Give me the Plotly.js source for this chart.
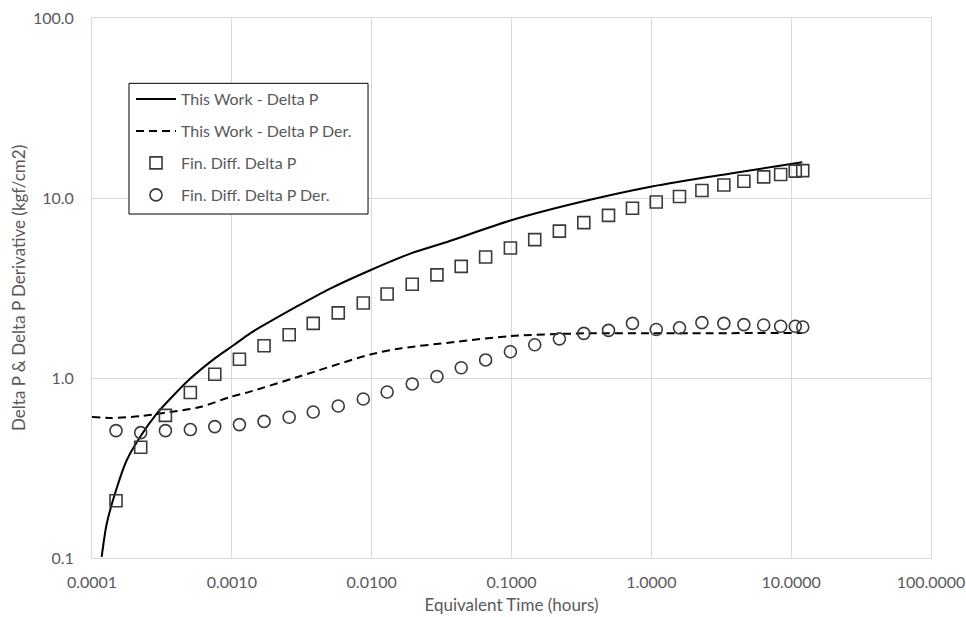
<!DOCTYPE html>
<html>
<head>
<meta charset="utf-8">
<script src="https://cdn.plot.ly/plotly-3.0.1.min.js"></script>
<style>
  html, body { margin: 0; padding: 0; background: #ffffff; }
  #chart { width: 966px; height: 617px; }
</style>
</head>
<body>
<div id="chart"></div>
<script>
// Analytical model (this work): pressure change and its derivative
const modelTime = [1.173e-4, 1.274e-4, 1.461e-4, 1.771e-4, 2.206e-4, 2.904e-4, 3.82e-4, 5.03e-4,
  7.81e-4, 1.027e-3, 1.352e-3, 1.68e-3, 2.92e-3, 5.06e-3, 9.77e-3, 0.0189, 0.0346, 0.0982,
  0.311, 1.01, 3.69, 12.0];
const modelDeltaP = [0.1015, 0.155, 0.228, 0.349, 0.470, 0.634, 0.80, 0.99,
  1.31, 1.52, 1.77, 1.96, 2.50, 3.14, 3.97, 4.91, 5.7, 7.5,
  9.5, 11.6, 13.7, 15.8];

const derivTime = [1.0e-4, 1.345e-4, 2.206e-4, 3.61e-4, 5.93e-4, 9.73e-4, 1.352e-3, 2.92e-3,
  9.77e-3, 0.0160, 0.0396, 0.0982, 0.33, 0.98, 12.0];
const modelDeriv = [0.607, 0.60, 0.613, 0.647, 0.69, 0.784, 0.84, 1.01,
  1.35, 1.46, 1.585, 1.71, 1.77, 1.77, 1.78];

// Finite-difference simulation results
const fdTime = [1.485e-4, 2.23e-4, 3.35e-4, 5.05e-4, 7.55e-4, 1.133e-3, 1.70e-3, 2.57e-3,
  3.82e-3, 5.77e-3, 8.71e-3, 0.0129, 0.0195, 0.0293, 0.0437, 0.0653, 0.0982, 0.1466,
  0.220, 0.329, 0.494, 0.733, 1.084, 1.59, 2.30, 3.30, 4.59, 6.36, 8.41, 10.7, 12.1];
const fdDeltaP = [0.208, 0.412, 0.62, 0.83, 1.05, 1.27, 1.51, 1.74,
  2.01, 2.30, 2.61, 2.93, 3.32, 3.74, 4.17, 4.70, 5.28, 5.87,
  6.55, 7.30, 8.01, 8.77, 9.50, 10.2, 11.0, 11.8, 12.4, 13.1, 13.5, 14.1, 14.2];
const fdDeriv = [0.510, 0.497, 0.510, 0.517, 0.537, 0.551, 0.574, 0.605,
  0.647, 0.699, 0.764, 0.836, 0.927, 1.02, 1.14, 1.26, 1.40, 1.53,
  1.65, 1.77, 1.84, 2.01, 1.86, 1.90, 2.03, 2.01, 1.98, 1.97, 1.94, 1.94, 1.92];

const seriesNames = ['This Work - Delta P', 'This Work - Delta P Der.',
  'Fin. Diff. Delta P', 'Fin. Diff. Delta P Der.'];

// Axis ticks and titles
const xTickVals = [0.0001, 0.001, 0.01, 0.1, 1, 10, 100];
const xTickText = ['0.0001', '0.0010', '0.0100', '0.1000', '1.0000', '10.0000', '100.0000'];
const yTickVals = [0.1, 1, 10, 100];
const yTickText = ['0.1', '1.0', '10.0', '100.0'];
const xTitle = 'Equivalent Time (hours)';
const yTitle = 'Delta P & Delta P Derivative (kgf/cm2)';

const FONT = 'Lato, "Open Sans", sans-serif';
const GREY_TEXT = '#595959';
const GRID = '#d9d9d9';
const MARK = '#3a3a3a';

const traces = [
  {
    x: modelTime, y: modelDeltaP, name: seriesNames[0], type: 'scatter', mode: 'lines',
    line: { color: '#000000', width: 2, shape: 'spline', smoothing: 0.8 },
    legendgroup: 'a'
  },
  {
    x: derivTime, y: modelDeriv, name: seriesNames[1], type: 'scatter', mode: 'lines',
    line: { color: '#000000', width: 2, dash: '8px,5px', shape: 'spline', smoothing: 0.8 },
    legendgroup: 'b'
  },
  {
    x: fdTime, y: fdDeltaP, name: seriesNames[2], type: 'scatter', mode: 'markers',
    marker: { symbol: 'square-open', size: 12, color: MARK, line: { width: 1.6, color: MARK } },
    legendgroup: 'c'
  },
  {
    x: fdTime, y: fdDeriv, name: seriesNames[3], type: 'scatter', mode: 'markers',
    marker: { symbol: 'circle-open', size: 12, color: MARK, line: { width: 1.6, color: MARK } },
    legendgroup: 'd'
  }
];

// Legend frame (paper coordinates), drawn as a white box with a black border
const legendBox = { x0: 0.0441, x1: 0.329, y0: 0.637, y1: 0.879 };

const layout = {
  width: 966, height: 617,
  paper_bgcolor: '#ffffff', plot_bgcolor: '#ffffff',
  margin: { l: 92, r: 35, t: 18, b: 59 },
  font: { family: FONT, color: GREY_TEXT, size: 16 },
  showlegend: true,
  legend: {
    x: (131 - 92) / 839, y: 1 - (82 - 18) / 540, xanchor: 'left', yanchor: 'top',
    bgcolor: 'rgba(0,0,0,0)', borderwidth: 0,
    font: { family: FONT, color: GREY_TEXT, size: 16 },
    itemwidth: 40, tracegroupgap: 8.2, traceorder: 'grouped'
  },
  shapes: [{
    type: 'rect', xref: 'paper', yref: 'paper', layer: 'above',
    x0: legendBox.x0, x1: legendBox.x1, y0: legendBox.y0, y1: legendBox.y1,
    fillcolor: '#ffffff', line: { color: '#000000', width: 1 }
  }],
  annotations: [{
    text: yTitle, xref: 'paper', yref: 'paper', x: (18 - 92) / 839, y: 0.5,
    xanchor: 'center', yanchor: 'middle', textangle: -90, showarrow: false,
    font: { family: FONT, size: 17, color: GREY_TEXT }
  }],
  xaxis: {
    type: 'log', range: [-4, 2],
    tickvals: xTickVals, ticktext: xTickText,
    showgrid: true, gridcolor: GRID, gridwidth: 1,
    showline: true, linecolor: GRID, linewidth: 1, mirror: true,
    ticks: '', ticklabelstandoff: 10,
    tickfont: { family: FONT, size: 16, color: GREY_TEXT },
    zeroline: false,
    title: { text: xTitle, font: { family: FONT, size: 17, color: GREY_TEXT }, standoff: 8 }
  },
  yaxis: {
    type: 'log', range: [-1, 2],
    tickvals: yTickVals, ticktext: yTickText,
    showgrid: true, gridcolor: GRID, gridwidth: 1,
    showline: true, linecolor: GRID, linewidth: 1, mirror: true,
    ticks: '', ticklabelstandoff: 14,
    tickfont: { family: FONT, size: 16, color: GREY_TEXT },
    zeroline: false
  }
};

Plotly.newPlot('chart', traces, layout, { displayModeBar: false, staticPlot: true });
</script>
</body>
</html>
